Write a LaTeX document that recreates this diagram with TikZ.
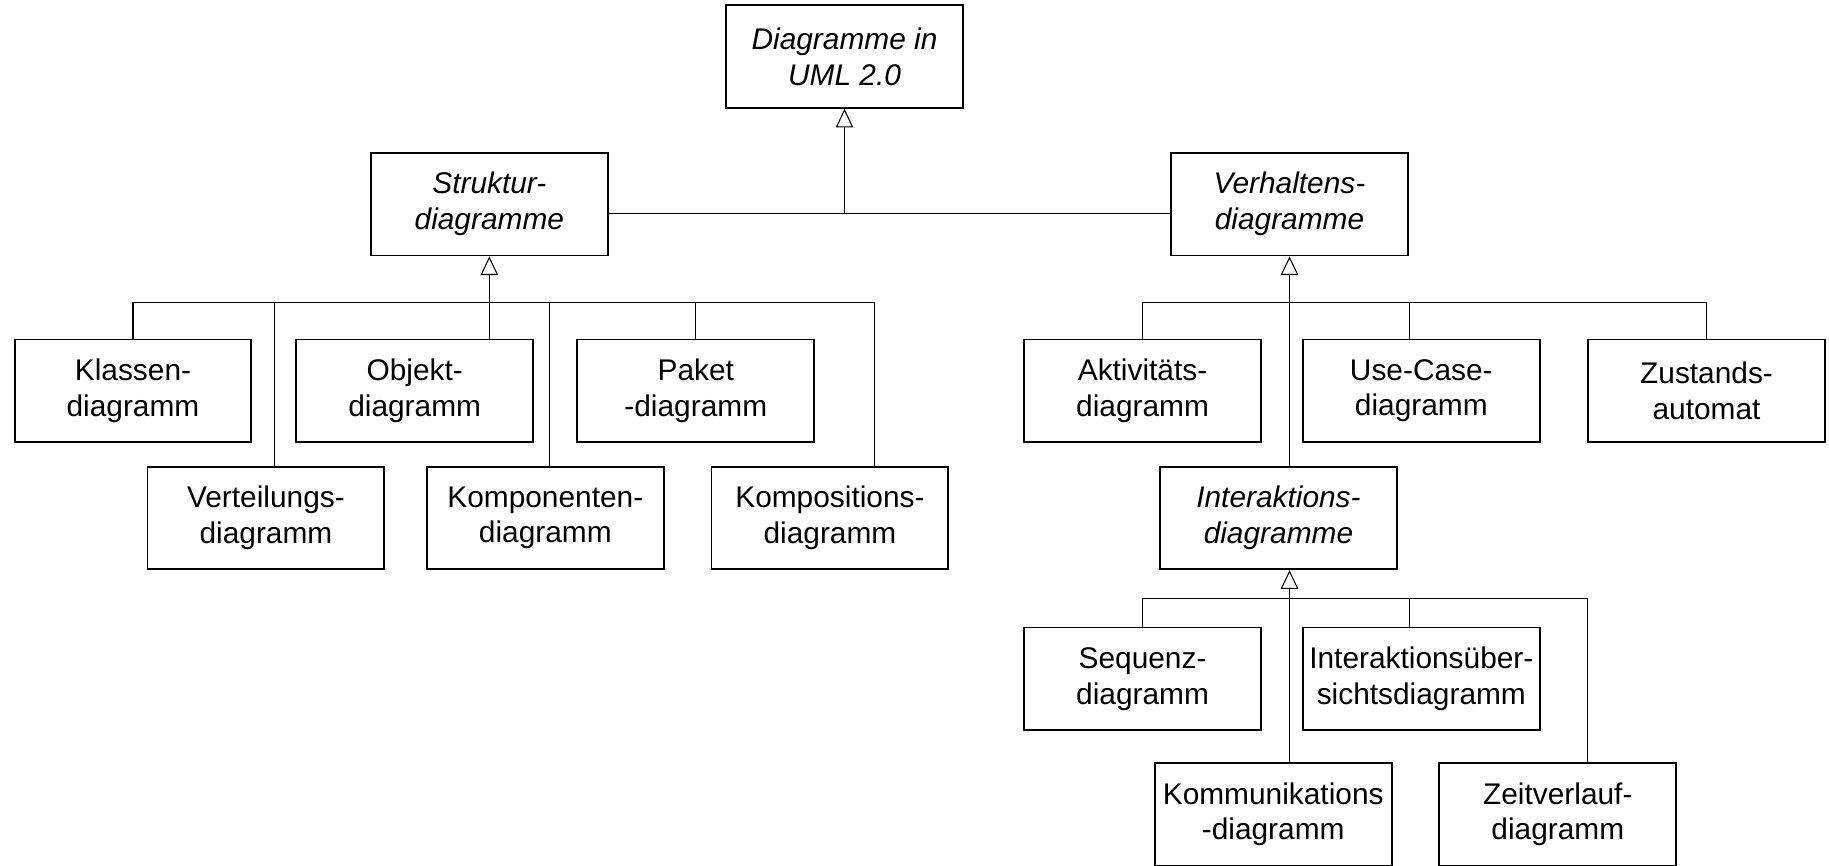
\documentclass[tikz,border=0pt]{standalone}
\usepackage{fontspec}
\setmainfont{Liberation Sans}
\usetikzlibrary{arrows.meta}
\tikzset{
  box/.style={draw, line width=0.8pt, minimum width=101.5pt, minimum height=44pt,
              inner sep=2pt, align=center, font=\fontsize{12.8}{15.3}\selectfont},
  abox/.style={box, font=\fontsize{12.8}{15.3}\selectfont\itshape},
  link/.style={draw, line width=0.45pt},
  gen/.style={link, -{Triangle[open, fill=white, length=8pt, width=7.5pt]}}
}
\begin{document}
\begin{tikzpicture}[x=0.5pt, y=-0.5pt]
\useasboundingbox (0,0) rectangle (1568,742);

% abstract diagram kinds
\node[abox] (uml)        at (724,48.5)   {Diagramme in\\UML 2.0};
\node[abox] (struktur)   at (419.5,175)  {Struktur-\\diagramme};
\node[abox] (verhalten)  at (1105.5,175) {Verhaltens-\\diagramme};
\node[abox] (inter)      at (1096,444)   {Interaktions-\\diagramme};

% structure diagrams
\node[box] (klassen)     at (114,335)    {Klassen-\\diagramm};
\node[box] (objekt)      at (355.5,335)  {Objekt-\\diagramm};
\node[box] (paket)       at (596.5,335)  {Paket\\-diagramm};
\node[box] (verteilung)  at (228,444)    {Verteilungs-\\diagramm};
\node[box] (komponenten) at (467.5,444)  {Komponenten-\\diagramm};
\node[box] (komposition) at (711.5,444)  {Kompositions-\\diagramm};

% behaviour diagrams
\node[box] (aktivitaet)  at (979.5,335)  {Aktivitäts-\\diagramm};
\node[box] (usecase)     at (1218.5,335) {Use-Case-\\diagramm};
\node[box] (zustand)     at (1463,335)   {Zustands-\\automat};

% interaction diagrams
\node[box] (sequenz)     at (979.5,582)  {Sequenz-\\diagramm};
\node[box] (uebersicht)  at (1218.5,582) {Interaktionsüber-\\sichtsdiagramm};
\node[box] (komm)        at (1091.5,698) {Kommunikations\\-diagramm};
\node[box] (zeit)        at (1335.5,698) {Zeitverlauf-\\diagramm};

% bus lines
\coordinate (topbus) at (724,183);
\coordinate (sbus) at (419.5,259);
\coordinate (vbus) at (1105.5,259);
\coordinate (ibus) at (1105.5,513);

% top level
\draw[link] (struktur.east |- topbus) -- (verhalten.west |- topbus);
\draw[gen] (uml.south |- topbus) -- (uml.south);

% structure branch
\draw[gen] (struktur.south |- objekt.north) -- (struktur.south);
\draw[link] (klassen.north) |- (sbus);
\draw[link] ([xshift=3.5pt]verteilung.north) |- (sbus);
\draw[link] ([xshift=1.75pt]komponenten.north) |- (sbus);
\draw[link] (paket.north) |- (sbus);
\draw[link] ([xshift=19pt]komposition.north) |- (sbus);

% behaviour branch
\draw[gen] (verhalten.south |- inter.north) -- (verhalten.south);
\draw[link] (aktivitaet.north) |- (vbus);
\draw[link] ([xshift=-5.25pt]usecase.north) |- (vbus);
\draw[link] (zustand.north) |- (vbus);

% interaction branch
\draw[gen] (verhalten.south |- komm.north) -- (verhalten.south |- inter.south);
\draw[link] (sequenz.north) |- (ibus);
\draw[link] ([xshift=-5.25pt]uebersicht.north) |- (ibus);
\draw[link] ([xshift=12.75pt]zeit.north) |- (ibus);
\end{tikzpicture}
\end{document}
